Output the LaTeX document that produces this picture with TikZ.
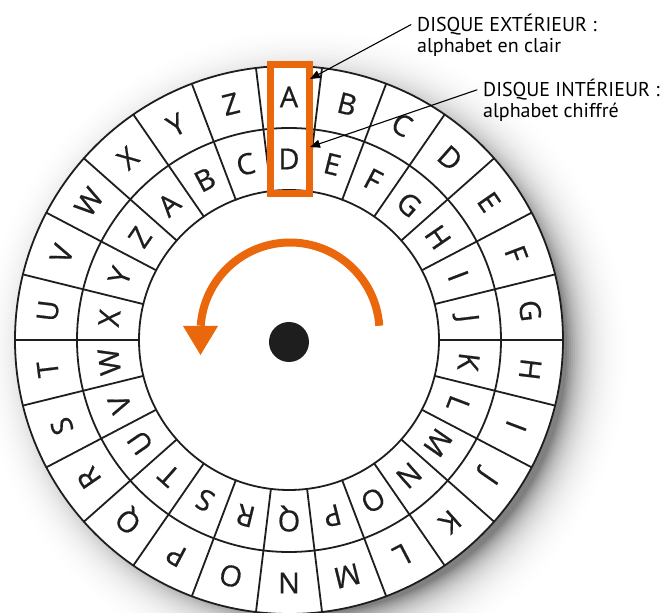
\documentclass[tikz,border=0pt]{standalone}
\usepackage{fontspec}
\setmainfont{PT Sans}
\newfontfamily\ringfont[FakeBold=0.6]{Open Sans}
\usetikzlibrary{arrows.meta}
\definecolor{discorange}{RGB}{234,104,11}
\definecolor{discink}{RGB}{30,30,30}
\begin{document}
\begin{tikzpicture}[x=1pt, y=1pt, line cap=round, line join=round,
    ring/.style={line width=1.8pt, draw=discink},
    letter/.style={font=\ringfont\fontsize{29}{29}\selectfont, inner sep=0pt,
      text height=20.7pt, text depth=0pt, text=discink},
    lbl/.style={font=\fontsize{20}{22}\selectfont, inner ysep=0pt, inner xsep=6pt, anchor=base west},
    pointer/.style={line width=1.1pt, -{Triangle[length=10pt,width=8pt]}}]
  \useasboundingbox (-289,-273) rectangle (376,340);
  % soft shadow under the disk
  \foreach \r in {324,322,...,262} {
    \pgfmathsetmacro\dk{50*(exp(-(\r-262)/18)-exp(-62/18))/(1-exp(-62/18))}
    \fill[black!\dk] (16,-12) circle (\r);
  }
  % the two rings
  \fill[white] (0,0) circle (274);
  \draw[ring] (0,0) circle (274);
  \draw[ring] (0,0) circle (212);
  \draw[ring] (0,0) circle (150);
  \foreach \k in {0,...,25}
    \draw[ring] ({90+180/26+\k*360/26}:150) -- ({90+180/26+\k*360/26}:274);
  \foreach \l [count=\i from 0] in {A,...,Z} {
    \node[letter, rotate=-\i*360/26] (out\l) at ({90-\i*360/26}:243) {\l};
    \node[letter, rotate=-(\i-3)*360/26] (in\l) at ({90-(\i-3)*360/26}:181) {\l};
  }
  % frame on A / D
  \draw[discorange, line width=7pt, line cap=butt, line join=miter] (-18.5,146) rectangle (20.5,275.5);
  % turning arrow and hub
  \draw[discorange, line width=8pt, line cap=butt] ([shift={(1,8)}]4:89.5) arc[start angle=4, end angle=176, radius=89.5];
  \fill[discorange] (-106,14) -- (-71,14) -- (-88.5,-15) -- cycle;
  \node[circle, fill=discink, inner sep=0pt, minimum size=40pt] (hub) at (0,-2) {};
  % labels
  \node[lbl] (outtitle) at (122,308.5) {DISQUE EXTÉRIEUR :};
  \node[lbl] (outsub) at (122,287) {alphabet en clair};
  \node[lbl] (intitle) at (188,243.3) {DISQUE INTÉRIEUR :};
  \node[lbl] (insub) at (188,222) {alphabet chiffré};
  \coordinate (tipout) at (21,261);
  \coordinate (tipin) at (21,193);
  \draw[pointer] (outtitle.west) -- (tipout);
  \draw[pointer] (intitle.west) -- (tipin);
\end{tikzpicture}
\end{document}
